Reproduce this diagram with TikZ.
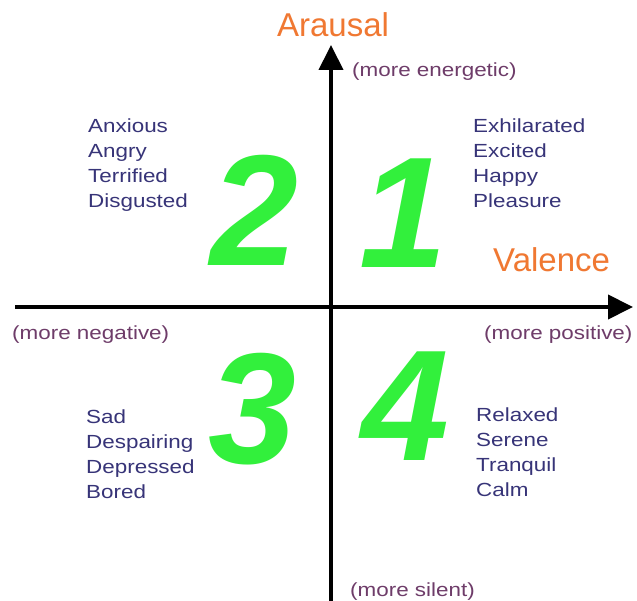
\documentclass[tikz,border=0pt]{standalone}
\usepackage{fontspec}
\setmainfont{Liberation Sans}
\newfontfamily\lblfont[FakeStretch=1.18]{Liberation Sans}
\usetikzlibrary{arrows.meta}
\definecolor{axisorange}{RGB}{240,120,50}
\definecolor{notepurple}{RGB}{110,60,105}
\definecolor{listnavy}{RGB}{55,52,120}
\definecolor{bigreen}{RGB}{50,240,60}
\tikzset{
  axis/.style={line width=4pt, -{Triangle[length=25pt,width=24pt]}},
  axlabel/.style={text=axisorange, font=\fontsize{33}{33}\selectfont, inner sep=0pt},
  note/.style={text=notepurple, font=\lblfont\fontsize{19}{19}\selectfont, inner sep=0pt, anchor=base west},
  emolist/.style={text=listnavy, font=\lblfont\fontsize{19}{25}\selectfont, inner sep=0pt, align=left, anchor=base west},
  quad/.style={text=bigreen, font=\bfseries\itshape\fontsize{158}{158}\selectfont, inner sep=0pt, anchor=base}
}
\begin{document}
\begin{tikzpicture}[x=1pt,y=-1pt]
\useasboundingbox (0,0) rectangle (637,601);
\fill[white] (0,0) rectangle (637,601);
% quadrant numerals
\node[quad] (q2) at (254,266) {2};
\node[quad] (q1) at (403,268) {1};
\node[quad] (q3) at (252,463) {3};
\node[quad] (q4) at (405,460) {4};
% axes
\coordinate (vb) at (331,601);
\coordinate (vt) at (331,45);
\coordinate (hl) at (15,307);
\coordinate (hr) at (633,307);
\draw[axis] (vb) -- (vt);
\draw[axis] (hl) -- (hr);
% axis labels
\node[axlabel, anchor=base] (aro) at (333,37) {Arausal};
\node[axlabel, anchor=base west] (val) at (493,272) {Valence};
\node[note] (ene) at (352,77) {(more energetic)};
\node[note] (neg) at (12,340) {(more negative)};
\node[note] (pos) at (484,340) {(more positive)};
\node[note] (sil) at (350,596) {(more silent)};
% emotion lists (base anchor = last line)
\node[emolist] (l2) at (88,208) {Anxious\\Angry\\Terrified\\Disgusted};
\node[emolist] (l1) at (473,208) {Exhilarated\\Excited\\Happy\\Pleasure};
\node[emolist] (l3) at (86,498) {Sad\\Despairing\\Depressed\\Bored};
\node[emolist] (l4) at (476,496) {Relaxed\\Serene\\Tranquil\\Calm};
\end{tikzpicture}
\end{document}
